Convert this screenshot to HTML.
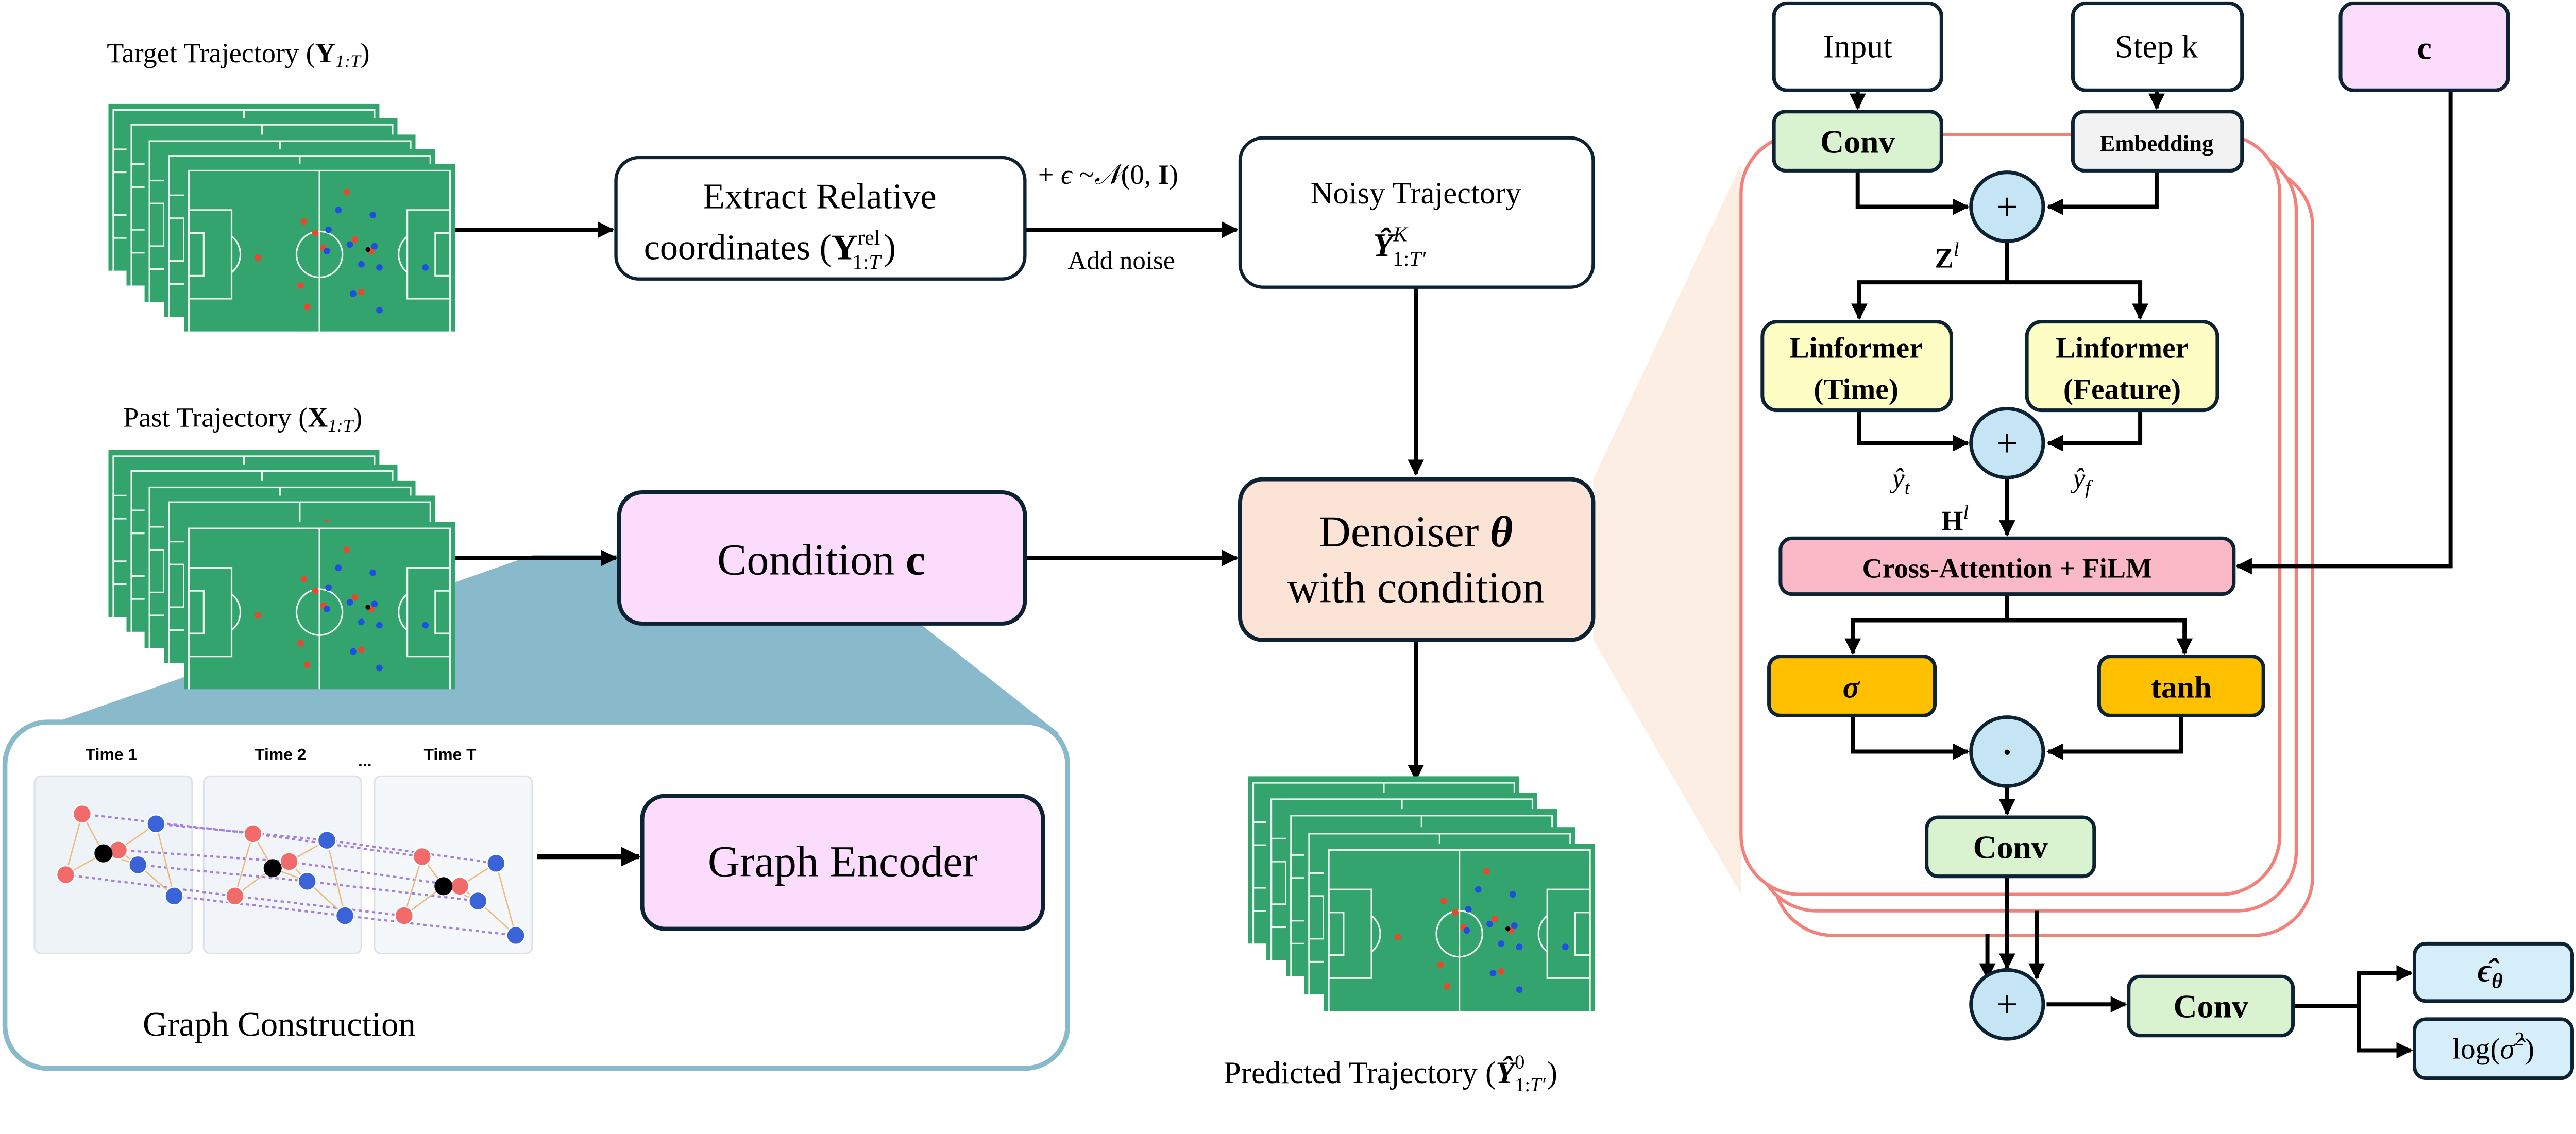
<!DOCTYPE html>
<html><head><meta charset="utf-8"><style>
html,body{margin:0;padding:0;background:#fff;width:5085px;height:2202px;overflow:hidden;}
svg{display:block;position:absolute;left:0;top:0;width:5085px;height:2202px;overflow:hidden;}
</style></head><body>
<svg width="5085" height="2202" viewBox="0 0 1595 691" preserveAspectRatio="none" xmlns="http://www.w3.org/2000/svg" font-family="'Liberation Serif', serif">
<defs>
<marker id="ah" viewBox="0 0 10 10" refX="9" refY="5" markerWidth="4" markerHeight="4" orient="auto"><path d="M0,0 L10,5 L0,10 z" fill="#000"/></marker>
<symbol id="field" viewBox="0 0 165 102">
<rect width="165" height="102" fill="#34a46e"/>
<g fill="none" stroke="#e9f5ee" stroke-width="1">
<rect x="3" y="4" width="159" height="100"/>
<line x1="82.5" y1="4" x2="82.5" y2="102"/>
<circle cx="82.5" cy="55" r="14"/>
<rect x="3" y="28" width="26" height="54"/>
<rect x="3" y="42" width="9" height="26"/>
<rect x="136" y="28" width="26" height="54"/>
<rect x="153" y="42" width="9" height="26"/>
<path d="M29,44 A14,14 0 0 1 29,66"/>
<path d="M136,44 A14,14 0 0 0 136,66"/>
</g>
<g fill="#e64a2e"><circle cx="99" cy="17" r="2"/><circle cx="80" cy="42" r="2"/><circle cx="104" cy="46" r="2"/><circle cx="73" cy="35" r="2"/><circle cx="85" cy="51" r="2"/><circle cx="114" cy="53" r="2"/><circle cx="45" cy="57" r="2"/><circle cx="71" cy="74" r="2"/><circle cx="108" cy="78" r="2"/><circle cx="75" cy="87" r="2"/></g>
<g fill="#1f4fe0"><circle cx="94" cy="28" r="2"/><circle cx="115" cy="31" r="2"/><circle cx="88" cy="40" r="2"/><circle cx="101" cy="49" r="2"/><circle cx="116" cy="50" r="2"/><circle cx="87" cy="53" r="2"/><circle cx="108" cy="61" r="2"/><circle cx="119" cy="63" r="2"/><circle cx="147" cy="63" r="2"/><circle cx="103" cy="79" r="2"/><circle cx="119" cy="89" r="2"/></g>
<circle cx="112" cy="52" r="1.5" fill="#000"/>
</symbol>
</defs>

<polygon points="970,292 1060,100 1060,545 970,390" fill="#fdeee4"/>

<text x="65" y="38" font-size="17" font-family="'Liberation Serif', serif">Target Trajectory (<tspan font-weight="bold">Y</tspan><tspan font-size="11" dy="3" font-style="italic">1:T</tspan><tspan dy="-3">)</tspan></text>
<use href="#field" x="66" y="63" width="165" height="102"/>
<use href="#field" x="77" y="72" width="165" height="102"/>
<use href="#field" x="88" y="82" width="165" height="102"/>
<use href="#field" x="100" y="91" width="165" height="102"/>
<use href="#field" x="112" y="100" width="165" height="102"/>

<text x="75" y="260" font-size="17" font-family="'Liberation Serif', serif">Past Trajectory (<tspan font-weight="bold">X</tspan><tspan font-size="11" dy="3" font-style="italic">1:T</tspan><tspan dy="-3">)</tspan></text>
<use href="#field" x="66" y="274" width="165" height="102"/>
<use href="#field" x="77" y="283" width="165" height="102"/>
<use href="#field" x="88" y="293" width="165" height="102"/>
<use href="#field" x="100" y="302" width="165" height="102"/>

<polygon points="325,338 560,338 560,380 645,447 14,447" fill="#89bacc"/>
<use href="#field" x="112" y="318" width="165" height="102"/>

<rect x="3" y="440" width="647" height="211" rx="26" fill="#fff" stroke="#89bacc" stroke-width="3"/>
<g font-family="'Liberation Sans', sans-serif" font-size="10" font-weight="bold">
<text x="52" y="463">Time 1</text>
<text x="155" y="463">Time 2</text>
<text x="218" y="467">...</text>
<text x="258" y="463">Time T</text>
</g>
<rect x="21" y="473" width="96" height="108" rx="4" fill="#eef3f8" stroke="#dde2e8"/>
<rect x="124" y="473" width="96" height="108" rx="4" fill="#f1f5f9" stroke="#dde2e8"/>
<rect x="228" y="473" width="96" height="108" rx="4" fill="#f4f8fb" stroke="#dde2e8"/>
<g stroke="#a57ee0" stroke-width="1.3" stroke-dasharray="2,2">
<line x1="50" y1="496" x2="154" y2="508"/><line x1="154" y1="508" x2="257" y2="522"/>
<line x1="95" y1="502" x2="199" y2="512"/><line x1="199" y1="512" x2="302" y2="526"/>
<line x1="72" y1="518" x2="176" y2="525"/><line x1="176" y1="525" x2="280" y2="540"/>
<line x1="84" y1="527" x2="187" y2="537"/><line x1="187" y1="537" x2="291" y2="549"/>
<line x1="40" y1="533" x2="143" y2="546"/><line x1="143" y1="546" x2="246" y2="558"/>
<line x1="106" y1="546" x2="210" y2="558"/><line x1="210" y1="558" x2="314" y2="570"/>
</g>
<g stroke="#f0b87a" stroke-width="0.8" fill="none">
<path d="M50,496 L63,520 L72,518 L95,502 L106,546 L84,527 L63,520 L40,533 L50,496 M72,518 L84,527"/>
<path d="M154,508 L166,529 L176,525 L199,512 L210,558 L187,537 L166,529 L143,546 L154,508 M176,525 L187,537"/>
<path d="M257,522 L270,540 L280,540 L302,526 L314,570 L291,549 L270,540 L246,558 L257,522 M280,540 L291,549"/>
</g>
<g fill="#f26b6b" stroke="#fff" stroke-width="0.8">
<circle cx="50" cy="496" r="5.5"/><circle cx="72" cy="518" r="5.5"/><circle cx="40" cy="533" r="5.5"/>
<circle cx="154" cy="508" r="5.5"/><circle cx="176" cy="525" r="5.5"/><circle cx="143" cy="546" r="5.5"/>
<circle cx="257" cy="522" r="5.5"/><circle cx="280" cy="540" r="5.5"/><circle cx="246" cy="558" r="5.5"/></g>
<g fill="#3b63d8" stroke="#fff" stroke-width="0.8">
<circle cx="95" cy="502" r="5.5"/><circle cx="84" cy="527" r="5.5"/><circle cx="106" cy="546" r="5.5"/>
<circle cx="199" cy="512" r="5.5"/><circle cx="187" cy="537" r="5.5"/><circle cx="210" cy="558" r="5.5"/>
<circle cx="302" cy="526" r="5.5"/><circle cx="291" cy="549" r="5.5"/><circle cx="314" cy="570" r="5.5"/></g>
<g fill="#000"><circle cx="63" cy="520" r="5.5"/><circle cx="166" cy="529" r="5.5"/><circle cx="270" cy="540" r="5.5"/></g>
<line x1="327" y1="522" x2="389" y2="522" stroke="#000" stroke-width="3" marker-end="url(#ah)"/>
<rect x="391" y="485" width="244" height="81" rx="14" fill="#fcdcfc" stroke="#0d2233" stroke-width="2.5"/>
<text x="513" y="534" font-size="27" text-anchor="middle" font-family="'Liberation Serif', serif">Graph Encoder</text>
<text x="170" y="631" font-size="21" text-anchor="middle" font-family="'Liberation Serif', serif">Graph Construction</text>

<g stroke="#000" stroke-width="2.5" fill="none">
<line x1="277" y1="140" x2="373" y2="140" marker-end="url(#ah)"/>
<line x1="624" y1="140" x2="753" y2="140" marker-end="url(#ah)"/>
<line x1="862" y1="175" x2="862" y2="289" marker-end="url(#ah)"/>
<line x1="277" y1="340" x2="375" y2="340" marker-end="url(#ah)"/>
<line x1="624" y1="340" x2="753" y2="340" marker-end="url(#ah)"/>
<line x1="862" y1="390" x2="862" y2="475" marker-end="url(#ah)"/>
</g>
<g font-family="'Liberation Serif', serif">
<rect x="375" y="96" width="249" height="74" rx="14" fill="#fff" stroke="#0d2233" stroke-width="2"/>
<text x="499" y="127" font-size="22" text-anchor="middle">Extract Relative</text>
<text x="392" y="158" font-size="22">coordinates (<tspan font-weight="bold">Y</tspan><tspan font-size="13" dy="-9">rel</tspan><tspan font-size="13" dx="-17" dy="15">1:<tspan font-style="italic">T</tspan></tspan><tspan dy="-6" dx="2">)</tspan></text>
<text x="632" y="112" font-size="17">+ <tspan font-style="italic">ϵ</tspan> ~<tspan font-style="italic">𝒩</tspan>(0, <tspan font-weight="bold">I</tspan>)</text>
<text x="650" y="164" font-size="16">Add noise</text>
<rect x="755" y="84" width="215" height="91" rx="14" fill="#fff" stroke="#0d2233" stroke-width="2"/>
<text x="862" y="124" font-size="19" text-anchor="middle">Noisy Trajectory</text>
<text x="836" y="156" font-size="20" font-weight="bold" font-style="italic">Ŷ<tspan font-size="13" font-weight="normal" dy="-9">K</tspan><tspan font-size="13" font-weight="normal" font-style="normal" dx="-9" dy="15">1:<tspan font-style="italic">T′</tspan></tspan></text>
<rect x="377" y="300" width="247" height="80" rx="14" fill="#fcdcfc" stroke="#0d2233" stroke-width="2.5"/>
<text x="500" y="350" font-size="27" text-anchor="middle">Condition <tspan font-weight="bold">c</tspan></text>
<rect x="755" y="292" width="215" height="98" rx="14" fill="#fbe3d6" stroke="#0d2233" stroke-width="2.5"/>
<text x="862" y="333" font-size="27" text-anchor="middle">Denoiser <tspan font-weight="bold" font-style="italic">θ</tspan></text>
<text x="862" y="367" font-size="27" text-anchor="middle">with condition</text>
</g>

<use href="#field" x="760" y="473" width="165" height="102"/>
<use href="#field" x="771" y="483" width="165" height="102"/>
<use href="#field" x="783" y="493" width="165" height="102"/>
<use href="#field" x="794" y="504" width="165" height="102"/>
<use href="#field" x="806" y="514" width="165" height="102"/>
<text x="745" y="660" font-size="19" font-family="'Liberation Serif', serif">Predicted Trajectory (<tspan font-weight="bold" font-style="italic">Ŷ</tspan><tspan font-size="12" dy="-9">0</tspan><tspan font-size="12" dx="-6" dy="14">1:<tspan font-style="italic">T′</tspan></tspan><tspan dx="1" dy="-5">)</tspan></text>

<g fill="#fff" stroke="#f4807a" stroke-width="2">
<rect x="1080" y="102" width="328" height="468" rx="36"/>
<rect x="1070" y="92" width="328" height="463" rx="36"/>
<rect x="1060" y="82" width="328" height="463" rx="36"/>
</g>

<g stroke="#000" stroke-width="2.5" fill="none">
<line x1="1131" y1="55" x2="1131" y2="66" marker-end="url(#ah)"/>
<line x1="1313" y1="55" x2="1313" y2="66" marker-end="url(#ah)"/>
<polyline points="1131,104 1131,126 1198,126" marker-end="url(#ah)"/>
<polyline points="1313,104 1313,126 1247,126" marker-end="url(#ah)"/>
<line x1="1222" y1="146" x2="1222" y2="172"/>
<polyline points="1132,180 1132,172 1303,172 1303,180"/>
<line x1="1132" y1="178" x2="1132" y2="194" marker-end="url(#ah)"/>
<line x1="1303" y1="178" x2="1303" y2="194" marker-end="url(#ah)"/>
<polyline points="1132,250 1132,270 1198,270" marker-end="url(#ah)"/>
<polyline points="1303,250 1303,270 1247,270" marker-end="url(#ah)"/>
<line x1="1222" y1="290" x2="1222" y2="326" marker-end="url(#ah)"/>
<polyline points="1492,55 1492,345 1362,345" marker-end="url(#ah)"/>
<polyline points="1128,386 1128,378 1330,378 1330,386"/>
<line x1="1222" y1="362" x2="1222" y2="378"/>
<line x1="1128" y1="384" x2="1128" y2="398" marker-end="url(#ah)"/>
<line x1="1330" y1="384" x2="1330" y2="398" marker-end="url(#ah)"/>
<polyline points="1128,436 1128,458 1198,458" marker-end="url(#ah)"/>
<polyline points="1328,436 1328,458 1247,458" marker-end="url(#ah)"/>
<line x1="1222" y1="479" x2="1222" y2="496" marker-end="url(#ah)"/>
<line x1="1222" y1="534" x2="1222" y2="590" marker-end="url(#ah)"/>
<line x1="1210" y1="569" x2="1210" y2="596" marker-end="url(#ah)"/>
<line x1="1240" y1="555" x2="1240" y2="596" marker-end="url(#ah)"/>
<line x1="1246" y1="612" x2="1294" y2="612" marker-end="url(#ah)"/>
<line x1="1396" y1="613" x2="1436" y2="613"/>
<polyline points="1450,593 1436,593 1436,640 1450,640"/>
<line x1="1448" y1="593" x2="1468" y2="593" marker-end="url(#ah)"/>
<line x1="1448" y1="640" x2="1468" y2="640" marker-end="url(#ah)"/>
</g>

<g stroke="#0d2233" stroke-width="2.2">
<rect x="1080" y="2" width="102" height="53" rx="8" fill="#fff"/>
<rect x="1262" y="2" width="103" height="53" rx="8" fill="#fff"/>
<rect x="1425" y="2" width="102" height="53" rx="8" fill="#fcdcfc"/>
<rect x="1080" y="68" width="102" height="36" rx="7" fill="#d9f2d0"/>
<rect x="1262" y="68" width="103" height="36" rx="7" fill="#f2f2f2"/>
<ellipse cx="1222" cy="126" rx="22" ry="21" fill="#c5e5f5"/>
<rect x="1073" y="196" width="115" height="54" rx="9" fill="#fdfdc4"/>
<rect x="1234" y="196" width="116" height="54" rx="9" fill="#fdfdc4"/>
<ellipse cx="1222" cy="270" rx="22" ry="21" fill="#c5e5f5"/>
<rect x="1084" y="328" width="276" height="34" rx="7" fill="#fbb9c8"/>
<rect x="1077" y="400" width="101" height="36" rx="7" fill="#ffc000"/>
<rect x="1278" y="400" width="100" height="36" rx="7" fill="#ffc000"/>
<ellipse cx="1222" cy="458" rx="22" ry="21" fill="#c5e5f5"/>
<rect x="1173" y="498" width="102" height="36" rx="7" fill="#d9f2d0"/>
<ellipse cx="1222" cy="612" rx="22" ry="21" fill="#c5e5f5"/>
<rect x="1296" y="595" width="100" height="36" rx="7" fill="#d9f2d0"/>
<rect x="1470" y="575" width="96" height="35" rx="7" fill="#d6eef9"/>
<rect x="1470" y="621" width="96" height="36" rx="7" fill="#d6eef9"/>
</g>

<g font-size="20" text-anchor="middle" font-family="'Liberation Serif', serif">
<text x="1131" y="35">Input</text>
<text x="1313" y="35">Step k</text>
<text x="1476" y="36" font-weight="bold">c</text>
<text x="1131" y="93" font-weight="bold">Conv</text>
<text x="1313" y="92" font-size="14" font-weight="bold">Embedding</text>
<text x="1222" y="134" font-size="24">+</text>
<text x="1130" y="218" font-size="18" font-weight="bold">Linformer</text>
<text x="1130" y="243" font-size="18" font-weight="bold">(Time)</text>
<text x="1292" y="218" font-size="18" font-weight="bold">Linformer</text>
<text x="1292" y="243" font-size="18" font-weight="bold">(Feature)</text>
<text x="1222" y="278" font-size="24">+</text>
<text x="1222" y="352" font-size="17" font-weight="bold">Cross-Attention + FiLM</text>
<text x="1127" y="425" font-size="19" font-weight="bold" font-style="italic">σ</text>
<text x="1328" y="425" font-size="19" font-weight="bold">tanh</text>
<text x="1222" y="465" font-size="20" font-weight="bold">·</text>
<text x="1224" y="523" font-weight="bold">Conv</text>
<text x="1222" y="620" font-size="24">+</text>
<text x="1346" y="620" font-weight="bold">Conv</text>
<text x="1516" y="598" font-weight="bold" font-style="italic">ϵ̂<tspan font-size="13" dy="4">θ</tspan></text>
<text x="1518" y="645" font-size="18">log(<tspan font-style="italic">σ̂</tspan><tspan font-size="12" dy="-8">2</tspan><tspan dy="8">)</tspan></text>
</g>
<g font-family="'Liberation Serif', serif">
<text x="1178" y="163" font-size="17" font-weight="bold">Z<tspan font-size="12" font-weight="normal" font-style="italic" dy="-7">l</tspan></text>
<text x="1182" y="323" font-size="17" font-weight="bold">H<tspan font-size="12" font-weight="normal" font-style="italic" dy="-7">l</tspan></text>
<text x="1152" y="297" font-size="17" font-style="italic">ŷ<tspan font-size="12" dy="4">t</tspan></text>
<text x="1262" y="297" font-size="17" font-style="italic">ŷ<tspan font-size="12" dy="4">f</tspan></text>
</g>
</svg>
</body></html>
